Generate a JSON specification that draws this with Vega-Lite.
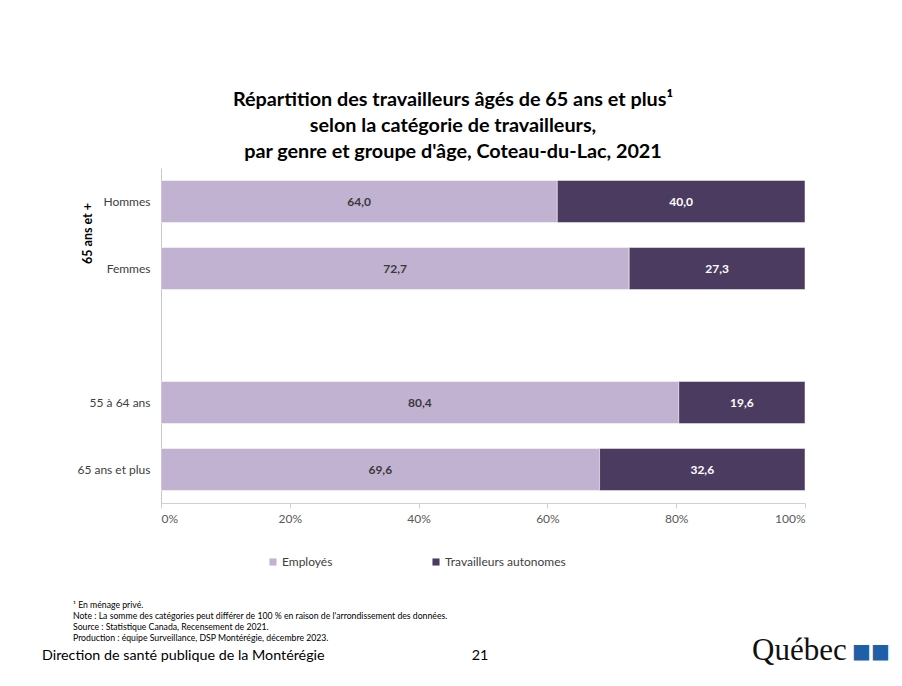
{
  "$schema": "https://vega.github.io/schema/vega-lite/v6.json",
  "background": "white",
  "padding": {"left": 42, "top": 90, "right": 5, "bottom": 5},
  "bounds": "flush",
  "spacing": 102,
  "config": {
    "locale": {"number": {"decimal": ",", "thousands": " ", "grouping": [3], "currency": ["", " $"]}},
    "font": "Lato",
    "view": {"stroke": null}
  },
  "vconcat": [
    {
      "width": 644,
      "height": 335,
      "title": {
        "text": ["Répartition des travailleurs âgés de 65 ans et plus¹", "selon la catégorie de travailleurs,", "par genre et groupe d'âge, Coteau-du-Lac, 2021"],
        "fontSize": 19.8,
        "fontWeight": "bold",
        "color": "#000000",
        "lineHeight": 26,
        "anchor": "middle",
        "frame": "group",
        "dx": -30,
        "offset": 6
      },
      "data": {"values": [
        {"groupe": "Hommes", "categorie": "Employés", "valeur": 64.0},
        {"groupe": "Hommes", "categorie": "Travailleurs autonomes", "valeur": 40.0},
        {"groupe": "Femmes", "categorie": "Employés", "valeur": 72.7},
        {"groupe": "Femmes", "categorie": "Travailleurs autonomes", "valeur": 27.3},
        {"groupe": "55 à 64 ans", "categorie": "Employés", "valeur": 80.4},
        {"groupe": "55 à 64 ans", "categorie": "Travailleurs autonomes", "valeur": 19.6},
        {"groupe": "65 ans et plus", "categorie": "Employés", "valeur": 69.6},
        {"groupe": "65 ans et plus", "categorie": "Travailleurs autonomes", "valeur": 32.6}
      ]},
      "encoding": {
        "y": {
          "field": "groupe",
          "type": "nominal",
          "scale": {"domain": ["Hommes", "Femmes", " ", "55 à 64 ans", "65 ans et plus"], "paddingInner": 0.37, "paddingOuter": 0.185},
          "axis": {
            "title": "65 ans et +",
            "titleFontSize": 12.5,
            "titleFontWeight": "bold",
            "titleColor": "#000000",
            "titleAngle": 270,
            "titleX": -74,
            "titleY": 65,
            "titleAlign": "center",
            "titleBaseline": "middle",
            "labelFontSize": 12,
            "labelColor": "#404040",
            "labelPadding": 11,
            "ticks": false,
            "domainColor": "#c8c8c8"
          }
        },
        "order": {"field": "categorie", "type": "nominal", "sort": "ascending"}
      },
      "layer": [
        {
          "mark": {"type": "bar", "stroke": "#ffffff", "strokeWidth": 0.5},
          "encoding": {
            "x": {
              "field": "valeur",
              "type": "quantitative",
              "stack": "normalize",
              "scale": {"domain": [0, 1]},
              "axis": {
                "title": null,
                "format": ".0%",
                "values": [0, 0.2, 0.4, 0.6, 0.8, 1],
                "grid": false,
                "domainColor": "#d0d0d0",
                "tickColor": "#d0d0d0",
                "tickSize": 5,
                "labelFontSize": 12,
                "labelColor": "#595959",
                "labelPadding": 5
              }
            },
            "color": {
              "field": "categorie",
              "type": "nominal",
              "scale": {"domain": ["Employés", "Travailleurs autonomes"], "range": ["#c1b2d1", "#4c3b60"]},
              "legend": {
                "title": null,
                "orient": "none",
                "legendX": 106,
                "legendY": 388,
                "direction": "horizontal",
                "symbolType": "square",
                "symbolSize": 50,
                "symbolStrokeWidth": 0,
                "labelFontSize": 12,
                "labelColor": "#404040",
                "labelOffset": 3,
                "columnPadding": 97
              }
            }
          }
        },
        {
          "mark": {"type": "text", "fontWeight": "bold", "fontSize": 12},
          "encoding": {
            "x": {"field": "valeur", "type": "quantitative", "stack": "normalize", "bandPosition": 0.5},
            "detail": {"field": "categorie", "type": "nominal"},
            "text": {"field": "valeur", "type": "quantitative", "format": ".1f"},
            "color": {"condition": {"test": "datum.categorie === 'Travailleurs autonomes'", "value": "#ffffff"}, "value": "#3a3a3a"}
          }
        }
      ]
    },
    {
      "width": 644,
      "height": 55,
      "layer": [
        {
          "data": {"values": [
            {"ligne": 1, "texte": "¹ En ménage privé."},
            {"ligne": 2, "texte": "Note : La somme des catégories peut différer de 100 % en raison de l'arrondissement des données."},
            {"ligne": 3, "texte": "Source : Statistique Canada, Recensement de 2021."},
            {"ligne": 4, "texte": "Production : équipe Surveillance, DSP Montérégie, décembre 2023."}
          ]},
          "mark": {"type": "text", "align": "left", "baseline": "middle", "fontSize": 8.7, "color": "#000000", "dx": -410},
          "encoding": {
            "y": {"field": "ligne", "type": "ordinal", "scale": {"type": "point", "domain": [1, 2, 3, 4, 5, 6], "padding": 0}, "axis": null},
            "text": {"field": "texte", "type": "nominal"}
          }
        },
        {
          "data": {"values": [{"texte": "Direction de santé publique de la Montérégie"}]},
          "mark": {"type": "text", "align": "left", "baseline": "middle", "fontSize": 14.3, "color": "#000000", "dx": -441, "dy": -4},
          "encoding": {
            "y": {"datum": 6, "type": "ordinal"},
            "text": {"field": "texte", "type": "nominal"}
          }
        },
        {
          "data": {"values": [{"texte": "21"}]},
          "mark": {"type": "text", "align": "center", "baseline": "middle", "fontSize": 14.3, "color": "#000000", "dx": -3, "dy": -4},
          "encoding": {
            "y": {"datum": 6, "type": "ordinal"},
            "text": {"field": "texte", "type": "nominal"}
          }
        },
        {
          "data": {"values": [{"texte": "Québec"}]},
          "mark": {"type": "text", "align": "left", "baseline": "middle", "font": "Liberation Serif", "fontSize": 31, "color": "#111111", "dx": 269, "dy": -9},
          "encoding": {
            "y": {"datum": 6, "type": "ordinal"},
            "text": {"field": "texte", "type": "nominal"}
          }
        },
        {
          "data": {"values": [{"texte": "■■"}]},
          "mark": {"type": "text", "align": "left", "baseline": "middle", "font": "DejaVu Sans", "fontSize": 20, "color": "#1f5fa8", "dx": 369, "dy": -8},
          "encoding": {
            "y": {"datum": 6, "type": "ordinal"},
            "text": {"field": "texte", "type": "nominal"}
          }
        }
      ]
    }
  ]
}
